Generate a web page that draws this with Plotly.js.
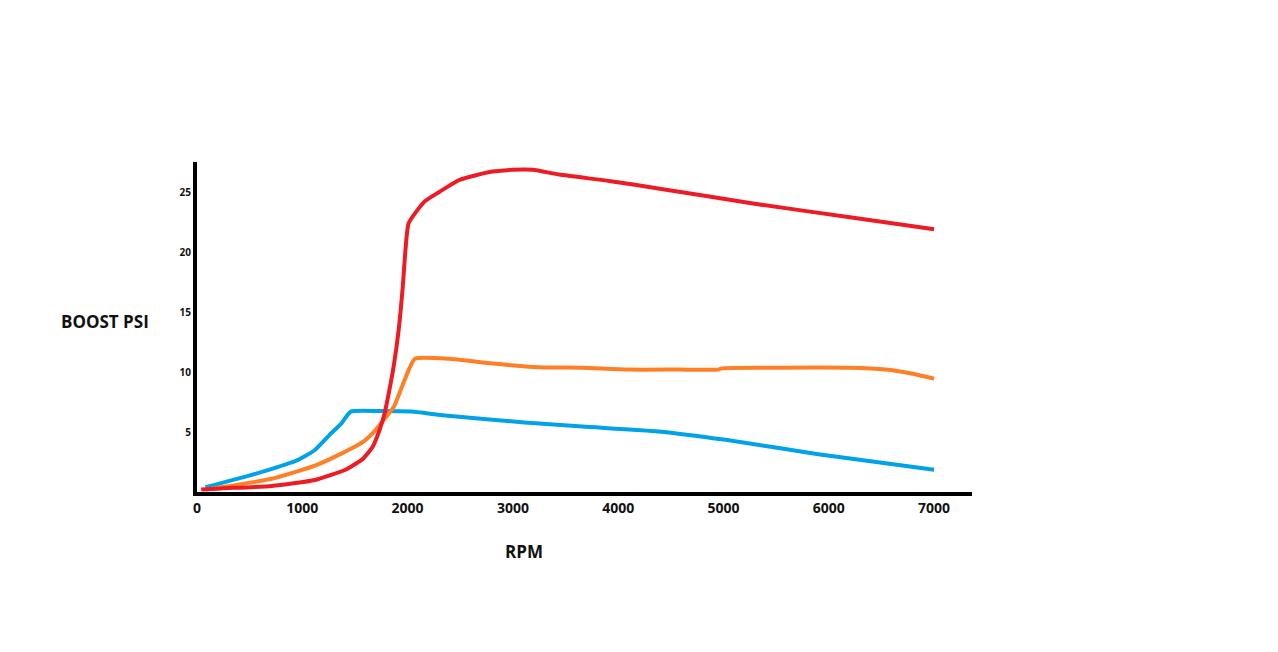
<!DOCTYPE html>
<html>
<head>
<meta charset="utf-8">
<script src="https://cdn.plot.ly/plotly-3.0.1.min.js"></script>
<style>html,body{margin:0;padding:0;background:#fff;}#chart{width:1278px;height:652px;}</style>
</head>
<body>
<div id="chart"></div>
<script>
// RPM / boost readings (values read against the drawn tick labels)
const redRpm = [40, 230, 710, 1120, 1420, 1580, 1670, 1735, 1780, 1825, 1870, 1915, 1955, 1980, 2010, 2160, 2300, 2490, 2650, 2810, 3000, 3190, 3440, 3930, 4380, 5310, 6200, 7000];
const redPsi = [0.2, 0.3, 0.5, 1.0, 1.9, 2.8, 3.8, 5.2, 6.5, 8.4, 10.6, 13.5, 17.2, 20.2, 22.4, 24.2, 25.0, 26.0, 26.4, 26.7, 26.85, 26.85, 26.45, 25.9, 25.3, 24.0, 22.9, 21.9];

const orangeRpm = [80, 710, 1120, 1370, 1580, 1700, 1790, 1870, 1930, 1970, 2070, 2390, 2810, 3250, 3660, 4090, 4570, 4950, 4980, 5400, 6200, 6540, 6770, 7000];
const orangePsi = [0.2, 1.1, 2.2, 3.2, 4.2, 5.2, 6.2, 7.1, 8.4, 9.3, 11.1, 11.1, 10.7, 10.4, 10.35, 10.2, 10.2, 10.2, 10.3, 10.35, 10.35, 10.2, 9.9, 9.45];

const blueRpm = [80, 470, 720, 940, 1120, 1275, 1370, 1460, 1735, 2040, 2330, 3110, 3660, 4380, 5020, 5900, 7000];
const bluePsi = [0.4, 1.3, 1.95, 2.6, 3.5, 4.9, 5.7, 6.7, 6.75, 6.7, 6.4, 5.8, 5.45, 5.05, 4.35, 3.15, 1.85];

const xTicks = [0, 1000, 2000, 3000, 4000, 5000, 6000, 7000];
const yTicks = [5, 10, 15, 20, 25];

const traces = [
  {x: blueRpm, y: bluePsi, mode: 'lines', line: {color: '#00A2E8', width: 4, shape: 'spline', smoothing: 0.5}},
  {x: orangeRpm, y: orangePsi, mode: 'lines', line: {color: '#FF7F27', width: 4, shape: 'spline', smoothing: 0.5}},
  {x: redRpm, y: redPsi, mode: 'lines', line: {color: '#ED1C24', width: 4, shape: 'spline', smoothing: 0.5}}
];

const fontFam = 'Open Sans, Noto Sans, sans-serif';
const layout = {
  width: 1278, height: 652,
  margin: {l: 197, r: 306, t: 162, b: 160, pad: 0},
  paper_bgcolor: '#ffffff', plot_bgcolor: '#ffffff',
  showlegend: false,
  xaxis: {
    range: [0, 7360], showgrid: false, zeroline: false,
    showline: true, linecolor: '#000', linewidth: 4,
    ticks: '', tickvals: xTicks, ticktext: xTicks.map(String),
    tickfont: {family: fontFam, size: 14, color: '#111', weight: 'bold'},
    fixedrange: true
  },
  yaxis: {
    range: [0, 27.5], showgrid: false, zeroline: false,
    showline: true, linecolor: '#000', linewidth: 4,
    ticks: '', tickvals: yTicks, ticktext: yTicks.map(String),
    tickfont: {family: fontFam, size: 10, color: '#111', weight: 'bold'},
    fixedrange: true
  },
  annotations: [
    {text: 'BOOST PSI', xref: 'paper', yref: 'paper', x: -0.119, y: 0.518,
     showarrow: false, xanchor: 'center', yanchor: 'middle',
     font: {family: fontFam, size: 17, color: '#111', weight: 'bold'}},
    {text: 'RPM', xref: 'paper', yref: 'paper', x: 0.422, y: -0.179,
     showarrow: false, xanchor: 'center', yanchor: 'middle',
     font: {family: fontFam, size: 17, color: '#111', weight: 'bold'}}
  ]
};

Plotly.newPlot('chart', traces, layout, {displayModeBar: false, staticPlot: true});
</script>
</body>
</html>
